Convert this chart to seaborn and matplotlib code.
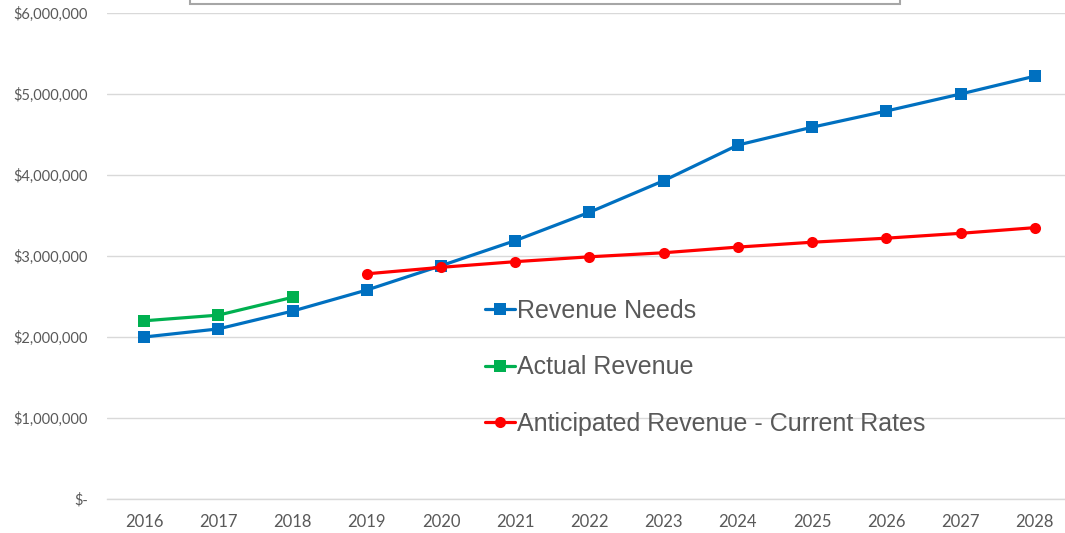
import numpy as np
import pandas as pd
import matplotlib
matplotlib.use("Agg")
import matplotlib.pyplot as plt
from matplotlib.patches import Rectangle
from matplotlib.ticker import FuncFormatter
import seaborn as sns

# ==========================================
# DATA (values in dollars)
# ==========================================
years = list(range(2016, 2029))
revenue_needs = [2000000, 2100000, 2320000, 2580000, 2880000, 3190000, 3540000,
                 3930000, 4370000, 4590000, 4790000, 5000000, 5220000]
actual_years = [2016, 2017, 2018]
actual_revenue = [2200000, 2270000, 2490000]
anticipated_years = list(range(2019, 2029))
anticipated_revenue = [2780000, 2860000, 2930000, 2990000, 3040000, 3110000,
                       3170000, 3220000, 3280000, 3350000]

series_names = ["Revenue Needs", "Actual Revenue", "Anticipated Revenue - Current Rates"]
colors = ["#0070C0", "#00B050", "#FF0000"]
markers = ["s", "s", "o"]

df = pd.concat([
    pd.DataFrame({"year": years, "value": revenue_needs, "series": series_names[0]}),
    pd.DataFrame({"year": actual_years, "value": actual_revenue, "series": series_names[1]}),
    pd.DataFrame({"year": anticipated_years, "value": anticipated_revenue, "series": series_names[2]}),
])

# ==========================================
# PLOT
# ==========================================
sns.set_style("white")
plt.rcParams["font.family"] = ["Lato", "DejaVu Sans"]

fig = plt.figure(figsize=(10.65, 5.33), dpi=100)
ax = fig.add_axes([0.1005, 0.0638, 0.906, 0.9118])

sns.lineplot(data=df, x="year", y="value", hue="series", style="series",
             hue_order=series_names, style_order=series_names,
             palette=colors, markers=markers, dashes=False,
             linewidth=2.3, markersize=8, markeredgewidth=0, ax=ax)

ax.set_xlim(2015.5, 2028.5)
ax.set_ylim(0, 6000000)
ax.set_xticks(years)
ax.set_yticks(np.arange(0, 6000001, 1000000))
ax.yaxis.set_major_formatter(FuncFormatter(lambda v, p: "$-" if v == 0 else f"${v:,.0f}"))
ax.grid(axis="y", color="#d9d9d9", linewidth=1)
ax.set_axisbelow(True)
for s in ["top", "left", "right"]:
    ax.spines[s].set_visible(False)
ax.spines["bottom"].set_color("#d9d9d9")
ax.spines["bottom"].set_linewidth(1)
ax.tick_params(axis="both", length=0, colors="#595959")
ax.tick_params(axis="y", labelsize=10.5, pad=14)
ax.tick_params(axis="x", labelsize=12, pad=11)
ax.set_xlabel("")
ax.set_ylabel("")

handles, labels = ax.get_legend_handles_labels()
leg = ax.legend(handles, labels, loc="center left", bbox_to_anchor=(0.392, 0.271),
                frameon=False, borderpad=0, borderaxespad=0,
                handlelength=1.2, handletextpad=0.05, labelspacing=1.3,
                prop={"family": ["Liberation Sans"], "size": 18})
for t in leg.get_texts():
    t.set_color("#595959")

# partial frame of the title box cut off at the top
fig.patches.append(Rectangle((190 / 1065, 529 / 533), 710 / 1065, 0.05,
                             transform=fig.transFigure, facecolor="white",
                             edgecolor="#a6a6a6", linewidth=1.5))

fig.savefig("out.png", dpi=100)
